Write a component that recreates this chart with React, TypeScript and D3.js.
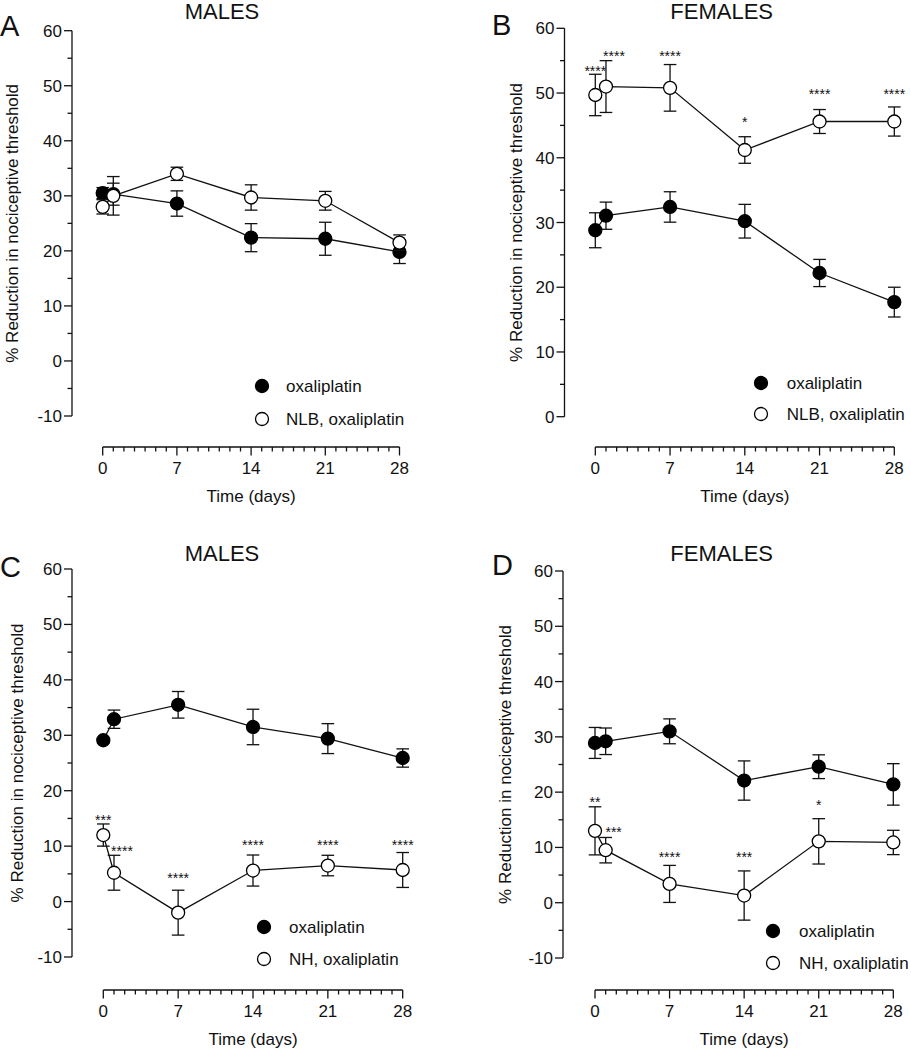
import React from "react";
import * as d3 from "d3";

// time points (days)
const days = [0, 1, 7, 14, 21, 28];
const xTickDays = [0, 7, 14, 21, 28];

// A: males, NLB
const aOxMean = [30.5, 30.3, 28.6, 22.4, 22.2, 19.8];
const aOxSem = [1.0, 2.0, 2.3, 2.55, 3.0, 2.1];
const aTrtMean = [28.0, 30.0, 34.0, 29.7, 29.1, 21.5];
const aTrtSem = [1.3, 3.5, 1.2, 2.3, 1.7, 1.4];
const aStars = ["", "", "", "", "", ""];
const aStarLevel = [0, 0, 0, 0, 0, 0];

// B: females, NLB
const bOxMean = [28.8, 31.05, 32.4, 30.2, 22.2, 17.7];
const bOxSem = [2.7, 2.1, 2.35, 2.6, 2.1, 2.3];
const bTrtMean = [49.7, 51.0, 50.8, 41.2, 45.6, 45.6];
const bTrtSem = [3.2, 4.0, 3.6, 2.05, 1.85, 2.25];
const bStars = ["****", "****", "****", "*", "****", "****"];
const bStarLevel = [53.7, 56.1, 56.1, 45.8, 50.2, 50.2];

// C: males, NH
const cOxMean = [29.1, 32.9, 35.5, 31.5, 29.4, 25.9];
const cOxSem = [0.5, 1.65, 2.4, 3.2, 2.7, 1.65];
const cTrtMean = [12.0, 5.2, -2.0, 5.6, 6.5, 5.7];
const cTrtSem = [2.0, 3.15, 4.05, 2.8, 1.85, 3.15];
const cStars = ["***", "****", "****", "****", "****", "****"];
const cStarLevel = [15.0, 9.5, 4.6, 10.5, 10.5, 10.5];

// D: females, NH
const dOxMean = [28.9, 29.2, 31.0, 22.1, 24.6, 21.4];
const dOxSem = [2.8, 2.4, 2.25, 3.55, 2.15, 3.75];
const dTrtMean = [13.0, 9.5, 3.4, 1.3, 11.1, 10.9];
const dTrtSem = [4.35, 2.3, 3.35, 4.45, 4.1, 2.2];
const dStars = ["**", "***", "****", "***", "*", ""];
const dStarLevel = [18.5, 13.2, 8.6, 8.6, 18.1, 0];

const FONT = "'Liberation Sans', Arial, Helvetica, sans-serif";
const R = 6.5;

const panels = [
  {
    letter: "A", letterX: 0, letterY: 36, title: "MALES", titleX: 222, titleY: 18.5,
    axisX: 72, yTop: 30.7, yBottom: 416, yMin: -10, xAxisY: 447, x0: 102.7, x28: 399.5,
    yTitleX: 17.5, legX: 262, legY1: 386, legY2: 419, legTextX: 286,
    labels: ["oxaliplatin", "NLB, oxaliplatin"],
    ox: aOxMean, oxSem: aOxSem, trt: aTrtMean, trtSem: aTrtSem, stars: aStars, starLevel: aStarLevel,
  },
  {
    letter: "B", letterX: 492, letterY: 35, title: "FEMALES", titleX: 721.7, titleY: 18.5,
    axisX: 564.5, yTop: 28.3, yBottom: 416.7, yMin: 0, xAxisY: 447, x0: 595.3, x28: 894.3,
    yTitleX: 522, legX: 761, legY1: 383, legY2: 414, legTextX: 786.7,
    labels: ["oxaliplatin", "NLB, oxaliplatin"],
    ox: bOxMean, oxSem: bOxSem, trt: bTrtMean, trtSem: bTrtSem, stars: bStars, starLevel: bStarLevel,
  },
  {
    letter: "C", letterX: 0, letterY: 577, title: "MALES", titleX: 222, titleY: 561,
    axisX: 72, yTop: 569, yBottom: 957, yMin: -10, xAxisY: 990, x0: 103.3, x28: 402.7,
    yTitleX: 22.5, legX: 264, legY1: 927, legY2: 959, legTextX: 289,
    labels: ["oxaliplatin", "NH, oxaliplatin"],
    ox: cOxMean, oxSem: cOxSem, trt: cTrtMean, trtSem: cTrtSem, stars: cStars, starLevel: cStarLevel,
  },
  {
    letter: "D", letterX: 492, letterY: 575, title: "FEMALES", titleX: 721.7, titleY: 561,
    axisX: 563, yTop: 571, yBottom: 958, yMin: -10, xAxisY: 990, x0: 595, x28: 893.3,
    yTitleX: 511, legX: 773, legY1: 931, legY2: 963, legTextX: 799,
    labels: ["oxaliplatin", "NH, oxaliplatin"],
    ox: dOxMean, oxSem: dOxSem, trt: dTrtMean, trtSem: dTrtSem, stars: dStars, starLevel: dStarLevel,
  },
];

function Series({ x, y, mean, sem, filled }) {
  const line = d3.line<number>().x((_, i) => x(days[i])).y((d) => y(d));
  return (
    <g>
      <path d={line(mean) || ""} fill="none" stroke="#111" strokeWidth={1.3} />
      {mean.map((m, i) => {
        const cx = x(days[i]);
        const top = y(m + sem[i]);
        const bot = y(m - sem[i]);
        return (
          <g key={i} stroke="#111" strokeWidth={1.3}>
            <line x1={cx} x2={cx} y1={top} y2={bot} />
            <line x1={cx - 6.3} x2={cx + 6.3} y1={top} y2={top} />
            <line x1={cx - 6.3} x2={cx + 6.3} y1={bot} y2={bot} />
          </g>
        );
      })}
      {mean.map((m, i) => (
        <circle key={i} cx={x(days[i])} cy={y(m)} r={R}
          fill={filled ? "#000" : "#fff"} stroke="#000" strokeWidth={1.3} />
      ))}
    </g>
  );
}

function Panel({ p }) {
  const x = d3.scaleLinear().domain([0, 28]).range([p.x0, p.x28]);
  const y = d3.scaleLinear().domain([p.yMin, 60]).range([p.yBottom, p.yTop]);
  const majorY = d3.range(p.yMin, 61, 10);
  const minorY = d3.range(p.yMin + 5, 60, 10);
  const minorX = d3.range(0, 29).filter((d) => !xTickDays.includes(d));
  const yMid = (p.yTop + p.yBottom) / 2;

  return (
    <g fontFamily={FONT} fill="#111">
      <text x={p.letterX} y={p.letterY} fontSize={29}>{p.letter}</text>
      <text x={p.titleX} y={p.titleY} fontSize={22} textAnchor="middle">{p.title}</text>

      {/* y axis */}
      <g stroke="#111" strokeWidth={1.3}>
        <line x1={p.axisX} x2={p.axisX} y1={y(60)} y2={y(p.yMin)} />
        {majorY.map((v) => (
          <line key={v} x1={p.axisX - 8} x2={p.axisX} y1={y(v)} y2={y(v)} />
        ))}
        {minorY.map((v) => (
          <line key={v} x1={p.axisX - 4.5} x2={p.axisX} y1={y(v)} y2={y(v)} />
        ))}
      </g>
      {majorY.map((v) => (
        <text key={v} x={p.axisX - 10} y={y(v) + 6} fontSize={17} textAnchor="end">{v}</text>
      ))}
      <text transform={`translate(${p.yTitleX},${yMid}) rotate(-90)`} fontSize={17} textAnchor="middle">
        % Reduction in nociceptive threshold
      </text>

      {/* x axis */}
      <g stroke="#111" strokeWidth={1.3}>
        <line x1={x(0)} x2={x(28)} y1={p.xAxisY} y2={p.xAxisY} />
        {xTickDays.map((d) => (
          <line key={d} x1={x(d)} x2={x(d)} y1={p.xAxisY} y2={p.xAxisY + 8.5} />
        ))}
        {minorX.map((d) => (
          <line key={d} x1={x(d)} x2={x(d)} y1={p.xAxisY} y2={p.xAxisY + 4.5} />
        ))}
      </g>
      {xTickDays.map((d) => (
        <text key={d} x={x(d)} y={p.xAxisY + 27} fontSize={17} textAnchor="middle">{d}</text>
      ))}
      <text x={(p.x0 + p.x28) / 2} y={p.xAxisY + 55} fontSize={17} textAnchor="middle">Time (days)</text>

      {/* data */}
      <Series x={x} y={y} mean={p.ox} sem={p.oxSem} filled />
      <Series x={x} y={y} mean={p.trt} sem={p.trtSem} filled={false} />

      {p.stars.map((s, i) =>
        s ? (
          <text key={i} x={x(days[i]) + (i === 1 ? 8 : 0)} y={y(p.starLevel[i]) + 7}
            fontSize={14} textAnchor="middle">{s}</text>
        ) : null
      )}

      {/* legend */}
      <circle cx={p.legX} cy={p.legY1} r={R} fill="#000" stroke="#000" strokeWidth={1.3} />
      <circle cx={p.legX} cy={p.legY2} r={R} fill="#fff" stroke="#000" strokeWidth={1.3} />
      <text x={p.legTextX} y={p.legY1 + 6} fontSize={17}>{p.labels[0]}</text>
      <text x={p.legTextX} y={p.legY2 + 6} fontSize={17}>{p.labels[1]}</text>
    </g>
  );
}

export default function App() {
  return (
    <svg width={911} height={1050} style={{ position: "absolute", left: 0, top: 0, background: "#fff" }}>
      <rect width={911} height={1050} fill="#fff" />
      {panels.map((p) => (
        <Panel key={p.letter} p={p} />
      ))}
    </svg>
  );
}
